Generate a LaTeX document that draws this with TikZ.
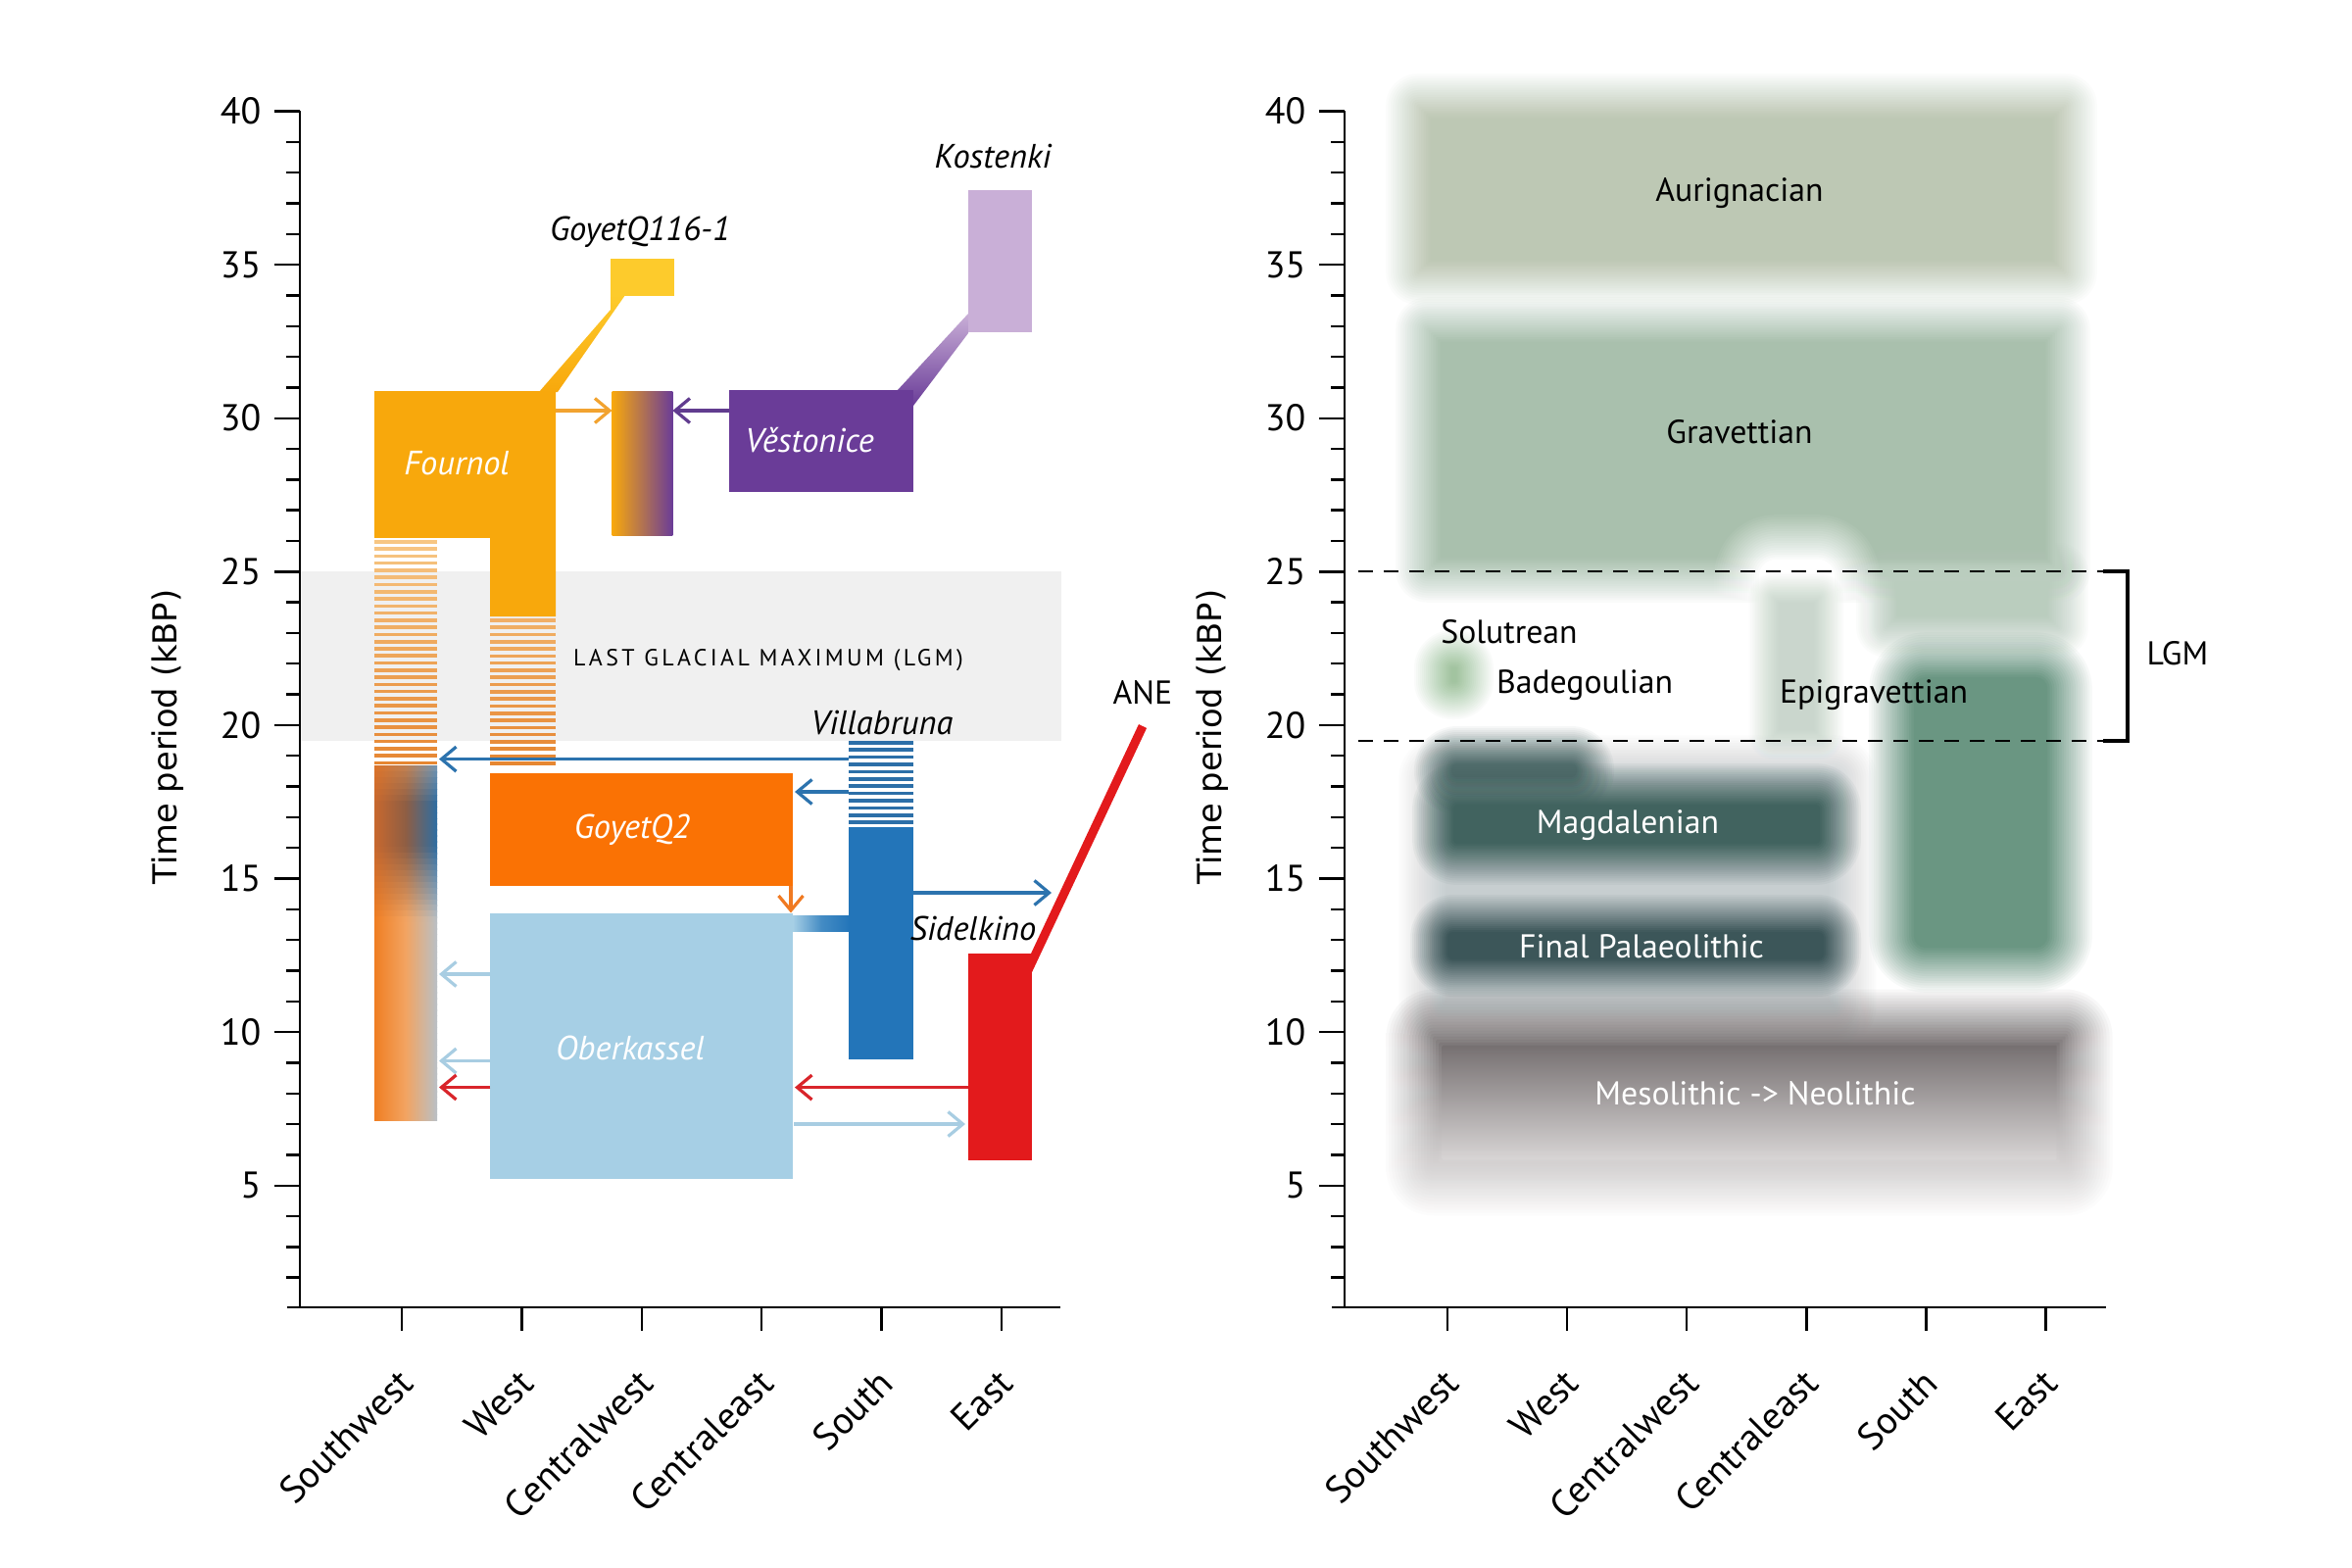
\documentclass[tikz,border=0pt]{standalone}
\usepackage{fontspec}
\setmainfont{PT Sans}
\newfontfamily\dvfont{DejaVu Sans}
\newfontfamily\lgmfont[LetterSpace=14]{PT Sans}
\usetikzlibrary{arrows.meta}

\definecolor{fourC}{HTML}{F8A80C}
\definecolor{yelC}{HTML}{FDCB2C}
\definecolor{vestC}{HTML}{6A3C98}
\definecolor{kostC}{HTML}{C9AFD7}
\definecolor{gqC}{HTML}{FA7204}
\definecolor{obkC}{HTML}{A6CFE5}
\definecolor{southC}{HTML}{2375B9}
\definecolor{redC}{HTML}{E31A1C}
\definecolor{hatchTop}{HTML}{F7C683}
\definecolor{hatchBot}{HTML}{E5842F}
\definecolor{hatchBlue}{HTML}{2C6FA8}
\definecolor{arrOr}{HTML}{F2A330}
\definecolor{arrPur}{HTML}{613C8F}
\definecolor{arrBlue}{HTML}{2C73AE}
\definecolor{arrLB}{HTML}{A8CDE2}
\definecolor{arrRed}{HTML}{D9252B}
\definecolor{arrGq}{HTML}{F07A22}
\definecolor{lgmGray}{HTML}{F0F0F0}
\definecolor{swOr}{HTML}{F07E22}
\definecolor{swDark}{HTML}{C8682E}
\definecolor{swBlue}{HTML}{2D6DA3}
\definecolor{swGray}{HTML}{B9C0C6}
\definecolor{swBrown}{HTML}{8E5E44}
\definecolor{swLOr}{HTML}{F2A462}
\definecolor{aurC}{HTML}{BDC8B4}
\definecolor{gravC}{HTML}{A9C0AD}
\definecolor{gravLC}{HTML}{BACDBE}
\definecolor{soluC}{HTML}{A2C4A0}
\definecolor{faintC}{HTML}{CAD6CD}
\definecolor{epiC}{HTML}{6A9682}
\definecolor{backC}{HTML}{C7CED0}
\definecolor{badC}{HTML}{516D6C}
\definecolor{magC}{HTML}{41635F}
\definecolor{fpC}{HTML}{3C5659}
\definecolor{mesoC}{HTML}{767071}
\definecolor{mesoBot}{HTML}{D8D5D5}

% blurred rounded rectangle: options, x1,y1,x2,y2, blur, radius
\newcommand\blurrect[7]{%
  \foreach \blI in {1,...,20}{%
    \pgfmathsetmacro\blOff{#6*(1-(2*\blI-1)/20)}%
    \pgfmathsetmacro\blAl{1/(21-\blI)}%
    \pgfmathsetmacro\blRc{max(#7+\blOff,1)*0.28453}%
    \path[#1, fill opacity=\blAl, rounded corners=\blRc pt]
      ({#2-(\blOff)},{#3-(\blOff)}) rectangle ({#4+(\blOff)},{#5+(\blOff)});
  }}

\begin{document}
\begin{tikzpicture}[x=0.01cm,y=-0.01cm,
  axisline/.style={black, line width=0.024cm},
  arr/.style={line width=0.032cm, -{Straight Barb[length=0.15cm,width=0.25cm,line width=0.032cm]}},
  lbl/.style={inner sep=0pt, font=\fontsize{9.6pt}{11pt}\selectfont},
  ilbl/.style={inner sep=0pt, font=\fontsize{9.8pt}{11pt}\selectfont\itshape},
  ticklbl/.style={inner sep=0pt, anchor=east, font=\fontsize{10.8pt}{12pt}\selectfont},
  catlbl/.style={inner sep=0pt, anchor=east, rotate=45, font=\fontsize{11pt}{13pt}\selectfont},
  ylbl/.style={inner sep=0pt, rotate=90, font=\dvfont\fontsize{9.6pt}{11pt}\selectfont},
  dashln/.style={black, line width=0.022cm, dash pattern=on 0.15cm off 0.11cm},
]
\fill[white] (0,0) rectangle (2400,1600);
\useasboundingbox (0,0) rectangle (2400,1600);

%================ LEFT PANEL ================
\fill[lgmGray] (307,583.3) rectangle (1083,755.6);
\node[inner sep=0pt, font=\lgmfont\fontsize{6.8pt}{8pt}\selectfont] (lgmtxt) at (784,674) {LAST GLACIAL MAXIMUM (LGM)};

% connecting bands
\shade[top color=yelC, bottom color=fourC] (550,400) -- (569,400) -- (638,301) -- (623,301) -- (623,316) -- cycle;
\shade[top color=kostC, bottom color=vestC] (916,398) -- (988,320) -- (988,340) -- (932,414) -- (932,398) -- cycle;
\coordinate (aneBot) at (1049,990);
\coordinate (aneTop) at (1166,741);
\draw[redC, line width=0.09cm] (aneBot) -- (aneTop);

% boxes
\fill[fourC] (382,399) -- (567,399) -- (567,629) -- (500,629) -- (500,548.8) -- (382,548.8) -- cycle;
\fill[yelC] (622.7,264.4) rectangle (688.2,301.9);
\fill[kostC] (988,193.8) rectangle (1053,338.9);
\shade[left color=fourC, right color=vestC] (624.5,399) rectangle (686.4,546.5);
\fill[vestC] (744,398) rectangle (931.8,502);

% hatches
\foreach \k in {0,...,31}{%
  \pgfmathsetmacro\yy{551+\k*7.28}%
  \pgfmathtruncatemacro\pp{(\yy-549)/2.37}%
  \fill[hatchBot!\pp!hatchTop] (382,\yy) rectangle (446,{\yy+3.6});
}
\foreach \k in {0,...,20}{%
  \pgfmathsetmacro\yy{631+\k*7.3}%
  \pgfmathtruncatemacro\pp{(\yy-549)/2.37}%
  \fill[hatchBot!\pp!hatchTop] (500,\yy) rectangle (567,{\yy+3.6});
}
\foreach \k in {0,...,11}{%
  \pgfmathsetmacro\yy{756+\k*7.4}%
  \fill[hatchBlue] (866.4,\yy) rectangle (931.8,{\yy+3.6});
}

% southwest gradient column
\foreach \k in {0,...,60}{%
  \pgfmathsetmacro\yy{781.7+\k*5.928}%
  \pgfmathtruncatemacro\bb{100*max(0,min(1,0.5+(\yy+3-782)/76,(940-\yy-3)/75))}%
  \shade[left color=swDark!\bb!swOr, right color=swBlue!\bb!swGray, middle color=swBrown!\bb!swLOr]
     (382,\yy) rectangle (446,{\yy+6.3});
}

% lower boxes
\fill[gqC] (500.4,789) rectangle (809.3,904.3);
\fill[obkC] (500.4,932.3) rectangle (809.3,1202.5);
\shade[left color=obkC, right color=southC, middle color=southC!75!obkC] (809,934) rectangle (867,950.7);
\fill[southC] (866.4,844.3) rectangle (931.8,1080.6);
\fill[redC] (987.5,972.5) rectangle (1053,1184);

% arrows
\coordinate (wR) at (567,419);      \coordinate (cwL) at (624.5,419);
\coordinate (vL) at (744,419);      \coordinate (cwR) at (686.4,419);
\coordinate (viL1) at (866.4,774.6); \coordinate (swR1) at (448,774.6);
\coordinate (viL2) at (866.4,808);   \coordinate (gqR) at (811,808);
\coordinate (gqB) at (807,904.3);    \coordinate (obT) at (807,931.5);
\coordinate (obL1) at (500.4,994);   \coordinate (swR2) at (448,994);
\coordinate (obL2) at (500.4,1082.5);\coordinate (swR3) at (448,1082.5);
\coordinate (obL3) at (500.4,1109.5);\coordinate (swR4) at (448,1109.5);
\coordinate (reL1) at (987.5,1109.6);\coordinate (obR1) at (811,1109.6);
\coordinate (obR2) at (810,1147);    \coordinate (reL2) at (985,1147);
\coordinate (soR) at (931.8,911);    \coordinate (eaL) at (1073,911);
\draw[arr, arrOr] (wR) -- (cwL);
\draw[arr, arrPur] (vL) -- (cwR);
\draw[arr, arrBlue] (viL1) -- (swR1);
\draw[arr, arrBlue] (viL2) -- (gqR);
\draw[arr, arrGq] (gqB) -- (obT);
\draw[arr, arrLB] (obL1) -- (swR2);
\draw[arr, arrLB] (obL2) -- (swR3);
\draw[arr, arrRed] (obL3) -- (swR4);
\draw[arr, arrRed] (reL1) -- (obR1);
\draw[arr, arrLB] (obR2) -- (reL2);
\draw[arr, arrBlue] (soR) -- (eaL);

% labels
\node[ilbl, text=white] (tFournol) at (466,473) {Fournol};
\node[ilbl] (tGoy1) at (653,237) {GoyetQ116-1};
\node[ilbl] (tKost) at (1013,160) {Kostenki};
\node[ilbl, text=white] (tVest) at (826,449) {Věstonice};
\node[ilbl] (tVilla) at (900,737) {Villabruna};
\node[ilbl, text=white] (tGoy2) at (645,847) {GoyetQ2};
\node[ilbl, text=white] (tOber) at (643,1069) {Oberkassel};
\node[ilbl] (tSidel) at (993,947) {Sidelkino};
\node[lbl] (tANE) at (1166,707) {ANE};

% axes
\draw[axisline] (306,113.5) -- (306,1334);
\draw[axisline] (293,1334) -- (1082,1334);
\foreach \v in {2,...,39}{\draw[axisline] (306,{113.5+(40-\v)*31.32}) -- (292,{113.5+(40-\v)*31.32});}
\foreach \v in {5,10,...,40}{%
  \draw[axisline] (306,{113.5+(40-\v)*31.32}) -- (280,{113.5+(40-\v)*31.32});
  \node[ticklbl] (tlL\v) at (267,{113.5+(40-\v)*31.32}) {\v};
}
\foreach \n [count=\i from 0] in {Southwest,West,Centralwest,Centraleast,South,East}{%
  \draw[axisline] ({410+122.4*\i},1334) -- ({410+122.4*\i},1358);
  \node[catlbl] (cL\i) at ({415+122.4*\i},1404) {\n};
}
\node[ylbl] (yL) at (171,752) {Time period (kBP)};

%================ RIGHT PANEL ================
\blurrect{fill=aurC}{1437}{98}{2117}{288}{24}{10}
\blurrect{fill=gravC}{1447}{326}{2110}{592}{24}{10}
\blurrect{fill=gravLC}{1915}{575}{2110}{650}{22}{10}
\blurrect{fill=white}{1772}{548}{1895}{830}{24}{40}
\blurrect{fill=faintC}{1800}{600}{1866}{760}{16}{10}
\blurrect{fill=soluC}{1462}{662}{1505}{715}{20}{20}
\blurrect{fill=epiC}{1930}{668}{2112}{990}{24}{35}
\blurrect{fill=backC}{1452}{775}{1890}{1045}{26}{20}
\blurrect{fill=badC}{1462}{760}{1628}{812}{20}{25}
\blurrect{fill=magC}{1462}{800}{1878}{882}{22}{25}
\blurrect{fill=fpC}{1458}{932}{1880}{998}{20}{25}
\blurrect{top color=mesoC, bottom color=mesoBot}{1443}{1038}{2127}{1212}{30}{20}

\coordinate (dA1) at (1386,583.3); \coordinate (dA2) at (2146,583.3);
\coordinate (dB1) at (1386,755.6); \coordinate (dB2) at (2146,755.6);
\draw[dashln] (dA1) -- (dA2);
\draw[dashln] (dB1) -- (dB2);
\draw[black, line width=0.04cm] (dA2) -- (2171,583.3) -- (2171,755.6) -- (dB2);

\node[lbl] (rAur) at (1775,197) {Aurignacian};
\node[lbl] (rGrav) at (1775,441) {Gravettian};
\node[lbl] (rSolu) at (1540,645) {Solutrean};
\node[lbl] (rBade) at (1617,699) {Badegoulian};
\node[lbl] (rEpi) at (1912,709) {Epigravettian};
\node[lbl, text=white] (rMag) at (1661,842) {Magdalenian};
\node[lbl, text=white] (rFP) at (1675,966) {Final Palaeolithic};
\node[lbl, text=white] (rMeso) at (1791,1116) {Mesolithic -> Neolithic};
\node[lbl] (rLGM) at (2222,667) {LGM};

\draw[axisline] (1372,113.5) -- (1372,1334);
\draw[axisline] (1359,1334) -- (2149,1334);
\foreach \v in {2,...,39}{\draw[axisline] (1372,{113.5+(40-\v)*31.32}) -- (1358,{113.5+(40-\v)*31.32});}
\foreach \v in {5,10,...,40}{%
  \draw[axisline] (1372,{113.5+(40-\v)*31.32}) -- (1346,{113.5+(40-\v)*31.32});
  \node[ticklbl] (tlR\v) at (1333,{113.5+(40-\v)*31.32}) {\v};
}
\foreach \n [count=\i from 0] in {Southwest,West,Centralwest,Centraleast,South,East}{%
  \draw[axisline] ({1477+122.1*\i},1334) -- ({1477+122.1*\i},1358);
  \node[catlbl] (cR\i) at ({1482+122.1*\i},1404) {\n};
}
\node[ylbl] (yR) at (1237,752) {Time period (kBP)};
\end{tikzpicture}
\end{document}
